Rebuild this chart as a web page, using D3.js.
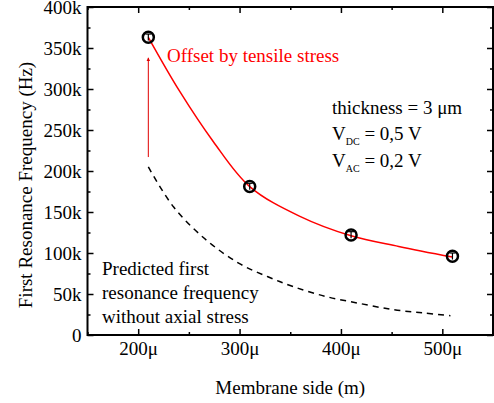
<!DOCTYPE html>
<html>
<head>
<meta charset="utf-8">
<script src="https://cdn.jsdelivr.net/npm/d3@7"></script>
<style>
  body { margin: 0; background: #fff; }
  text { font-family: "Liberation Serif", "Times New Roman", serif; }
</style>
</head>
<body>
<div id="chart"></div>
<script>
const width = 494;
const height = 403;

const margin = { top: 7, left: 87.5, bottom: 68, right: 1 };

// measured points (membrane side in µm, frequency in Hz)
const sides = [210, 310, 410, 510];
const measured = [363000, 181000, 122000, 96000];
const errors = [4000, 4000, 4000, 4000];

// red fit curve
const fitSides = [210, 241, 274, 310, 359, 410, 457, 510];
const fitFreq = [363000, 297000, 236000, 181000, 145000, 121000, 108000, 95000];

// dashed curve (predicted, no axial stress)
const predSides = [210, 235, 267, 300, 328, 353, 385, 418, 451, 480, 508];
const predFreq = [205000, 156000, 116000, 87000, 71000, 59000, 47000, 38600, 31000, 27000, 23500];

// arrow from predicted to measured
const arrowSide = 210;
const arrowFrom = 217000;
const arrowTo = 338000;

const xMajor = [200, 300, 400, 500];
const xMinor = [150, 250, 350, 450, 550];
const yMajor = [0, 50000, 100000, 150000, 200000, 250000, 300000, 350000, 400000];
const yMinor = [25000, 75000, 125000, 175000, 225000, 275000, 325000, 375000];

const svg = d3.select("#chart").append("svg")
    .attr("width", width).attr("height", height);

const x = d3.scaleLinear().domain([150, 550]).range([margin.left, width - margin.right]);
const y = d3.scaleLinear().domain([0, 400000]).range([height - margin.bottom, margin.top]);

const fs = 19;

// axes, ticks inward
svg.append("g").attr("transform", `translate(0,${y(0)})`)
    .call(d3.axisBottom(x).tickValues(xMajor).tickSize(-6).tickPadding(7).tickFormat(d => d + "μ"))
    .call(g => g.select(".domain").remove())
    .call(g => g.selectAll("text").attr("font-size", fs).attr("font-family", "Liberation Serif"));
svg.append("g").attr("transform", `translate(0,${y(0)})`)
    .call(d3.axisBottom(x).tickValues(xMinor).tickSize(-3).tickFormat(""))
    .call(g => g.select(".domain").remove());
svg.append("g").attr("transform", `translate(0,${y(400000)})`)
    .call(d3.axisTop(x).tickValues(xMajor).tickSize(-6).tickFormat(""))
    .call(g => g.select(".domain").remove());
svg.append("g").attr("transform", `translate(0,${y(400000)})`)
    .call(d3.axisTop(x).tickValues(xMinor).tickSize(-3).tickFormat(""))
    .call(g => g.select(".domain").remove());

svg.append("g").attr("transform", `translate(${x(150)},0)`)
    .call(d3.axisLeft(y).tickValues(yMajor).tickSize(-6).tickPadding(6).tickFormat(d => d === 0 ? "0" : d / 1000 + "k"))
    .call(g => g.select(".domain").remove())
    .call(g => g.selectAll("text").attr("font-size", fs).attr("font-family", "Liberation Serif"));
svg.append("g").attr("transform", `translate(${x(150)},0)`)
    .call(d3.axisLeft(y).tickValues(yMinor).tickSize(-3).tickFormat(""))
    .call(g => g.select(".domain").remove());
svg.append("g").attr("transform", `translate(${x(550)},0)`)
    .call(d3.axisRight(y).tickValues(yMajor).tickSize(-6).tickFormat(""))
    .call(g => g.select(".domain").remove());
svg.append("g").attr("transform", `translate(${x(550)},0)`)
    .call(d3.axisRight(y).tickValues(yMinor).tickSize(-3).tickFormat(""))
    .call(g => g.select(".domain").remove());

svg.selectAll(".tick line").attr("stroke", "#000").attr("stroke-width", 1.5);

// frame
svg.append("rect")
    .attr("x", x(150)).attr("y", y(400000))
    .attr("width", x(550) - x(150)).attr("height", y(0) - y(400000))
    .attr("fill", "none").attr("stroke", "#000").attr("stroke-width", 2);

// axis titles
svg.append("text")
    .attr("x", (x(150) + x(550)) / 2).attr("y", 394)
    .attr("text-anchor", "middle").attr("font-size", fs)
    .text("Membrane side (m)");
svg.append("text")
    .attr("transform", "translate(32,185) rotate(-90)")
    .attr("text-anchor", "middle").attr("font-size", fs)
    .text("First Resonance Frequency (Hz)");

// dashed prediction
const line = d3.line().x(d => x(d[0])).y(d => y(d[1])).curve(d3.curveCatmullRom.alpha(0.5));
svg.append("path")
    .datum(d3.zip(predSides, predFreq))
    .attr("d", line)
    .attr("fill", "none").attr("stroke", "#000").attr("stroke-width", 1.5)
    .attr("stroke-dasharray", "6,5");

// red fit
svg.append("path")
    .datum(d3.zip(fitSides, fitFreq))
    .attr("d", line)
    .attr("fill", "none").attr("stroke", "#ff0000").attr("stroke-width", 1.5);

// arrow
svg.append("defs").append("marker")
    .attr("id", "head").attr("viewBox", "0 0 10 10")
    .attr("refX", 9).attr("refY", 5)
    .attr("markerWidth", 4).attr("markerHeight", 8)
    .attr("markerUnits", "userSpaceOnUse")
    .attr("orient", "auto")
    .append("path").attr("d", "M0,0L10,5L0,10Z").attr("fill", "#e00000");
svg.append("line")
    .attr("x1", x(arrowSide)).attr("x2", x(arrowSide))
    .attr("y1", y(arrowFrom)).attr("y2", y(arrowTo))
    .attr("stroke", "#e00000").attr("stroke-width", 1)
    .attr("marker-end", "url(#head)");

// measured points with error bars
const pts = svg.append("g").selectAll("g").data(d3.zip(sides, measured, errors)).join("g");
pts.append("line")
    .attr("x1", d => x(d[0])).attr("x2", d => x(d[0]))
    .attr("y1", d => y(d[1] + d[2])).attr("y2", d => y(d[1] - d[2]))
    .attr("stroke", "#000").attr("stroke-width", 1.2);
pts.append("line")
    .attr("x1", d => x(d[0]) - 3).attr("x2", d => x(d[0]) + 3)
    .attr("y1", d => y(d[1] + d[2])).attr("y2", d => y(d[1] + d[2]))
    .attr("stroke", "#000").attr("stroke-width", 1.2);
pts.append("circle")
    .attr("cx", d => x(d[0])).attr("cy", d => y(d[1])).attr("r", 5.5)
    .attr("fill", "none").attr("stroke", "#000").attr("stroke-width", 2.5);

// annotations
svg.append("text")
    .attr("x", 167).attr("y", 62).attr("font-size", fs).attr("fill", "#ff0000")
    .text("Offset by tensile stress");

svg.append("text").attr("font-size", fs).attr("x", 332).attr("y", 114)
    .text("thickness = 3 μm");
const vdc = svg.append("text").attr("font-size", fs).attr("x", 332).attr("y", 140);
vdc.append("tspan").text("V");
vdc.append("tspan").attr("font-size", 10).attr("dy", 5).text("DC");
vdc.append("tspan").attr("dy", -5).text(" = 0,5 V");
const vac = svg.append("text").attr("font-size", fs).attr("x", 332).attr("y", 167);
vac.append("tspan").text("V");
vac.append("tspan").attr("font-size", 10).attr("dy", 5).text("AC");
vac.append("tspan").attr("dy", -5).text(" = 0,2 V");

const pred = ["Predicted first", "resonance frequency", "without axial stress"];
svg.append("g").selectAll("text").data(pred).join("text")
    .attr("x", 102).attr("y", (d, i) => 275 + i * 24)
    .attr("font-size", fs)
    .text(d => d);
</script>
</body>
</html>
